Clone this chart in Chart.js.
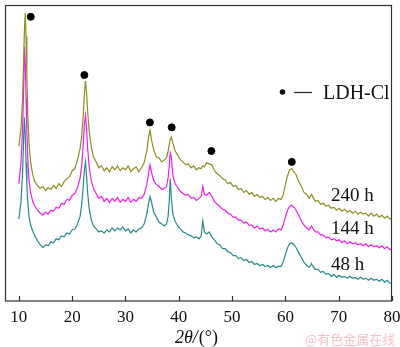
<!DOCTYPE html>
<html>
<head>
<meta charset="utf-8">
<script src="https://cdn.jsdelivr.net/npm/chart.js@4.4.0/dist/chart.umd.min.js"></script>
<style>
html,body{margin:0;padding:0;background:#fff;}
#wrap{width:400px;height:347px;}
</style>
</head>
<body>
<div id="wrap"><canvas id="c" width="400" height="347"></canvas></div>
<script>
// 2θ (degrees) sampling grid shared by all patterns
const angles = [
 10,10.4,10.7,10.9,11.05,11.2,11.35,11.5,11.7,11.9,
 12.2,12.6,13,13.5,14,14.5,15,15.5,16,16.5,
 17,17.5,18,18.5,19,19.5,20,20.5,21,21.5,
 21.8,22.1,22.3,22.5,22.7,22.9,23.2,23.6,24,24.5,
 25,25.5,26,26.5,27,27.5,28,28.5,29,29.5,
 30,30.5,31,31.5,32,32.5,33,33.5,34,34.3,
 34.6,34.9,35.3,35.8,36.3,36.8,37.3,37.7,38,38.2,
 38.4,38.6,38.9,39.3,39.8,40.3,40.8,41.3,41.8,42.3,
 42.8,43.3,43.8,44.2,44.5,44.8,45.2,45.7,46.2,46.7,
 47.2,47.7,48.2,48.7,49.2,49.7,50.2,50.7,51.2,51.7,
 52.2,52.7,53.2,53.7,54.2,54.7,55.2,55.7,56.2,56.7,
 57.2,57.7,58.2,58.7,59.2,59.6,60,60.4,60.8,61.2,
 61.6,62,62.5,63,63.5,64,64.5,64.9,65.2,65.6,
 66.1,66.6,67.1,67.6,68.1,68.6,69.1,69.6,70.1,70.6,
 71.1,71.6,72.1,72.6,73.1,73.6,74.1,74.6,75.1,75.6,
 76.1,76.6,77.1,77.6,78.1,78.6,79.1,79.6,80
];
// intensities (a.u., offset-stacked as in the figure)
const int240 = [
 157,175,205,245,275,292,268,228,186,160,
 141,128,121,117,114,116,112,115,113,117,
 114,119,116,121,124,126,132,134,143,155,
 168,190,210,223,211,192,172,156,146,141,
 135,137,132,135,131,136,133,137,132,135,
 133,137,131,134,136,131,135,140,152,165,
 173,163,153,146,145,141,143,145,152,158,
 164,166,160,152,148,143,141,138,139,135,
 137,133,135,134,137,136,140,139,138,132,
 129,127,124,123,119,120,116,117,113,114,
 110,112,108,110,106,108,105,106,103,105,
 102,104,101,104,103,108,118,127,133,134,
 131,128,121,116,110,108,104,108,105,101,
 102,98,99,96,97,94,95,92,94,91,
 93,90,92,89,91,88,90,88,89,86,
 89,86,88,85,87,84,86,83,84
];
const int144 = [
 119,140,175,215,258,240,205,172,140,122,
 110,101,96,92,89,87,90,88,92,91,
 95,94,99,98,103,102,107,109,115,125,
 138,160,180,188,174,155,135,122,114,109,
 104,106,101,104,100,104,101,105,100,103,
 101,105,100,103,101,105,104,108,118,128,
 138,130,122,118,116,113,114,116,125,136,
 150,146,127,119,115,111,109,107,108,104,
 105,102,104,106,116,108,107,110,106,101,
 98,96,93,92,89,88,85,85,82,82,
 79,80,77,77,74,76,73,74,71,73,
 70,72,70,73,72,77,85,92,96,97,
 95,92,87,81,77,74,72,76,73,70,
 70,67,67,64,65,62,63,61,62,59,
 61,58,60,58,59,57,58,56,58,55,
 57,55,56,54,56,53,55,52,53
];
const int48 = [
 83,100,130,165,186,168,140,118,98,86,
 77,71,66,61,57,54,57,56,60,59,
 63,62,66,65,69,68,72,73,78,86,
 98,118,133,141,127,110,93,82,76,73,
 70,71,69,72,70,74,71,74,72,75,
 71,73,69,72,70,73,74,78,88,98,
 106,100,90,85,80,78,76,78,86,100,
 124,104,88,81,76,73,70,69,67,66,
 64,65,63,66,81,70,68,70,65,62,
 58,57,53,53,50,49,46,46,43,44,
 41,42,39,40,37,38,36,37,35,36,
 34,36,34,35,35,40,47,54,58,59,
 57,54,49,44,39,36,34,38,35,32,
 32,29,30,27,28,25,27,24,26,24,
 25,23,25,23,24,22,24,22,23,21,
 23,21,22,20,22,19,21,18,18
];
// LDH-Cl reflection markers (2θ, intensity position)
const markerAngles = [12.23, 22.29, 34.58, 38.67, 46.12, 61.2];
const markerLevels = [288, 229, 181, 176, 152, 141];
const tickValues = [10,20,30,40,50,60,70,80];
const seriesNames = ['240 h','144 h','48 h'];
const seriesColors = ['#8e8e22','#f01ef0','#268a8a'];
const legendText = 'LDH-Cl';
const axisTitleItalic = '2\u03B8/';
const axisTitleRest = '(\u00B0)';
const watermark = '@有色金属在线';

const toXY = (vals) => vals.map((v,i)=>({x:angles[i], y:v}));
const serif = '"Liberation Serif","Times New Roman",serif';

const decor = {
  id:'decor',
  afterDraw(chart){
    const ctx = chart.ctx, a = chart.chartArea, xs = chart.scales.x;
    ctx.save();
    // frame
    ctx.strokeStyle = '#333'; ctx.lineWidth = 1.2;
    ctx.strokeRect(a.left+0.5, a.top+0.5, a.right-a.left-1, a.bottom-a.top-0.5);
    // inward ticks
    ctx.beginPath();
    tickValues.forEach(v=>{
      const px = Math.round(xs.getPixelForValue(v))+0.5;
      ctx.moveTo(px, a.bottom); ctx.lineTo(px, a.bottom-5);
    });
    ctx.stroke();
    // series labels
    ctx.fillStyle = '#111';
    ctx.font = '19px '+serif;
    ctx.textBaseline = 'alphabetic';
    ctx.fillText(seriesNames[0], 331, 201);
    ctx.fillText(seriesNames[1], 331, 234);
    ctx.fillText(seriesNames[2], 331, 270);
    // legend
    ctx.beginPath(); ctx.arc(282.5, 92, 2.8, 0, Math.PI*2); ctx.fill();
    ctx.beginPath(); ctx.lineWidth = 1.3; ctx.moveTo(294, 92.5); ctx.lineTo(312, 92.5); ctx.stroke();
    ctx.font = '20px '+serif;
    ctx.fillText(legendText, 323, 99);
    // axis title
    ctx.font = 'italic 18px '+serif;
    ctx.fillText(axisTitleItalic, 175, 343);
    const w = ctx.measureText(axisTitleItalic).width;
    ctx.font = '18px '+serif;
    ctx.fillText(axisTitleRest, 175 + w + 1, 343);
    // watermark
    ctx.fillStyle = '#f3c3cb';
    ctx.font = '13px "Noto Sans CJK SC"';
    ctx.textBaseline = 'middle';
    ctx.fillText(watermark, 305, 339);
    ctx.restore();
  }
};

new Chart(document.getElementById('c'), {
  type:'line',
  data:{
    datasets:[
      {label:'markers', type:'scatter', data: markerAngles.map((x,i)=>({x, y:markerLevels[i]})),
       backgroundColor:'#000', borderColor:'#000', pointRadius:3.5, showLine:false},
      {label:seriesNames[0], data:toXY(int240), borderColor:seriesColors[0], borderWidth:1.2, pointRadius:0, tension:0},
      {label:seriesNames[1], data:toXY(int144), borderColor:seriesColors[1], borderWidth:1.2, pointRadius:0, tension:0},
      {label:seriesNames[2], data:toXY(int48), borderColor:seriesColors[2], borderWidth:1.2, pointRadius:0, tension:0}
    ]
  },
  options:{
    responsive:false, animation:false, devicePixelRatio:1,
    layout:{padding:{left:2, right:8, top:1, bottom:0}},
    plugins:{legend:{display:false}, tooltip:{enabled:false}},
    scales:{
      x:{type:'linear', min:7.4, max:80,
         grid:{display:false, drawTicks:false}, border:{display:false},
         afterBuildTicks(s){ s.ticks = tickValues.map(v=>({value:v})); },
         afterFit(s){ s.height = 46; s.paddingLeft = 0; s.paddingRight = 0; },
         ticks:{color:'#111', padding:6, font:{family:serif, size:17}, maxRotation:0, autoSkip:false,
                callback:(v)=>String(v)}},
      y:{display:false, min:0, max:300}
    }
  },
  plugins:[decor]
});
</script>
</body>
</html>
